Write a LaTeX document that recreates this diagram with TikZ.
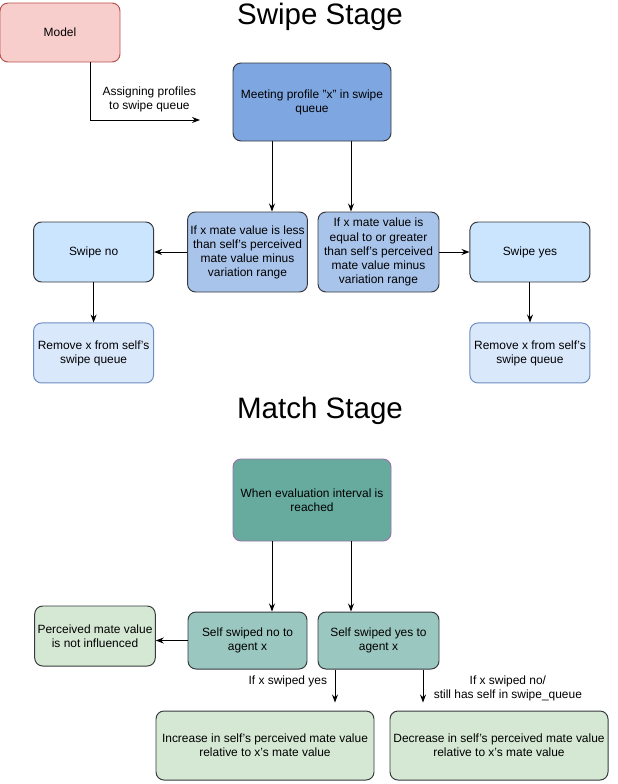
\documentclass[tikz,border=0pt]{standalone}
\usepackage{fontspec}
\setmainfont{Liberation Sans}
\usepackage{xcolor}
\usetikzlibrary{positioning,arrows.meta}

\definecolor{modelfill}{HTML}{F8CECC}
\definecolor{modeldraw}{HTML}{B85450}
\definecolor{meetfill}{HTML}{7EA6E0}
\definecolor{condfill}{HTML}{A9C4EB}
\definecolor{swfill}{HTML}{CCE5FF}
\definecolor{rmfill}{HTML}{DAE8FC}
\definecolor{rmdraw}{HTML}{6C8EBF}
\definecolor{evalfill}{HTML}{67AB9F}
\definecolor{evaldraw}{HTML}{9673A6}
\definecolor{selffill}{HTML}{9AC7BF}
\definecolor{resfill}{HTML}{D5E8D4}
\definecolor{darkline}{HTML}{36393D}

\begin{document}
\begin{tikzpicture}[>={Stealth[length=2mm]}, line width=0.7pt,
    box/.style = {draw, rounded corners=0.2cm, align=center, font=\fontsize{8.5}{10}\selectfont, inner sep=2pt},
    model/.style = {box, fill=modelfill, draw=modeldraw, minimum width=3cm, minimum height=1.475cm},
    meet/.style = {box, fill=meetfill, draw=darkline, minimum width=3.95cm, minimum height=1.95cm},
    cond/.style = {box, fill=condfill, draw=darkline, minimum height=2cm},
    swipe/.style = {box, fill=swfill, draw=darkline, minimum width=3cm, minimum height=1.5cm},
    remove/.style = {box, fill=rmfill, draw=rmdraw, minimum width=3cm, minimum height=1.5cm},
    evalbox/.style = {box, fill=evalfill, draw=evaldraw, minimum width=3.95cm, minimum height=2.05cm},
    selfbox/.style = {box, fill=selffill, draw=darkline, minimum height=1.425cm},
    result/.style = {box, fill=resfill, draw=darkline},
    title/.style = {font=\fontsize{21}{24}\selectfont},
    lbl/.style = {align=center, font=\fontsize{8.5}{10}\selectfont}]
        \useasboundingbox (0,0) rectangle (15.45,-19.6);

        % swipe stage
        \node[title] (swtitle) at (8.0,-0.425) {Swipe Stage};
        \node[model] (model) at (1.5,-0.8125) {Model};
        \node[meet] (meeting) at (7.8,-2.55) {Meeting profile \char34x\char34{} in swipe\\queue};
        \node[cond, minimum width=2.975cm] (lcond) at (6.1875,-6.3) {If x mate value is less\\than self's perceived\\mate value minus\\variation range};
        \node[cond, minimum width=3.025cm] (rcond) at (9.4625,-6.3) {If x mate value is\\equal to or greater\\than self's perceived\\mate value minus\\variation range};
        \node[swipe] (swno) [left=0.825cm of lcond] {Swipe no};
        \node[swipe] (swyes) [right=0.75cm of rcond] {Swipe yes};
        \node[remove] (rmno) [below=1cm of swno] {Remove x from self's\\swipe queue};
        \node[remove] (rmyes) [below=1cm of swyes] {Remove x from self's\\swipe queue};
        \coordinate (qend) at (5.0,-3.0);

        \draw[->] ([xshift=0.75cm]model.south) |- (qend) node [lbl, pos=0.77, above=2pt] {Assigning profiles\\to swipe queue};
        \draw[->] ([xshift=-1cm]meeting.south) -- ([xshift=-1cm]meeting.south |- lcond.north);
        \draw[->] ([xshift=0.975cm]meeting.south) -- ([xshift=0.975cm]meeting.south |- rcond.north);
        \draw[->] (lcond) -- (swno);
        \draw[->] (rcond) -- (swyes);
        \draw[->] (swno) -- (rmno);
        \draw[->] (swyes) -- (rmyes);

        % match stage
        \node[title] (mtitle) at (8.0,-10.275) {Match Stage};
        \node[evalbox] (eval) at (7.8,-12.5) {When evaluation interval is\\reached};
        \node[selfbox, minimum width=2.975cm] (sno) at (6.1875,-16.0125) {Self swiped no to\\agent x};
        \node[selfbox, minimum width=3.025cm] (syes) at (9.4625,-16.0125) {Self swiped yes to\\agent x};
        \node[result, minimum width=3cm, minimum height=1.5cm] (perc) at (2.375,-15.9) {Perceived mate value\\is not influenced};
        \node[result, minimum width=5.45cm, minimum height=1.725cm] (inc) at (6.625,-18.6375) {Increase in self's perceived mate value\\relative to x's mate value};
        \node[result, minimum width=5.45cm, minimum height=1.725cm] (dec) at (12.475,-18.6375) {Decrease in self's perceived mate value\\relative to x's mate value};

        \draw[->] ([xshift=-1cm]eval.south) -- ([xshift=-1cm]eval.south |- sno.north);
        \draw[->] ([xshift=0.975cm]eval.south) -- ([xshift=0.975cm]eval.south |- syes.north);
        \draw[->] (sno.west) -- (sno.west -| perc.east);
        \draw[->, shorten >=0.2cm] ([xshift=-1.0875cm]syes.south) -- ([xshift=-1.0875cm]syes.south |- inc.north) node [lbl, pos=0.3, left=2pt] {If x swiped yes};
        \draw[->, shorten >=0.2cm] ([xshift=1.1125cm]syes.south) -- ([xshift=1.1125cm]syes.south |- dec.north) node [lbl, pos=0.45, right=4pt] {If x swiped no/\\still has self in swipe\_queue};
    \end{tikzpicture}
\end{document}
